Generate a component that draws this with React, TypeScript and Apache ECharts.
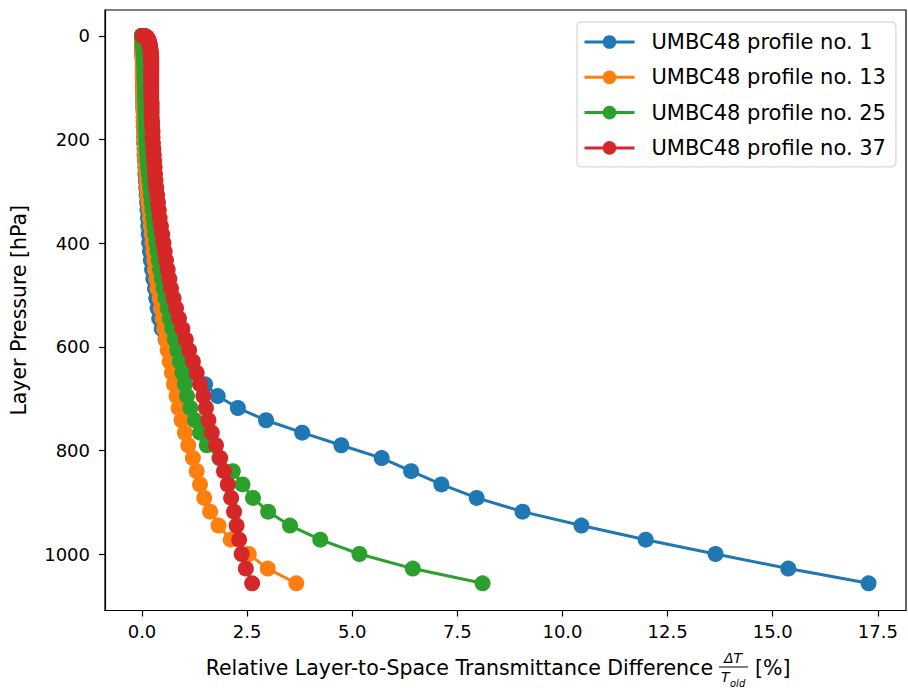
import React, { useEffect, useRef } from "react";
import * as echarts from "echarts";

// Layer pressures [hPa] (99 layers)
const layerPressure = [
  0.01, 0.03, 0.06, 0.11, 0.18, 0.29, 0.43, 0.61, 0.84, 1.14,
  1.49, 1.92, 2.43, 3.02, 3.71, 4.5, 5.4, 6.42, 7.56, 8.84,
  10.26, 11.83, 13.55, 15.44, 17.51, 19.75, 22.19, 24.82, 27.65, 30.7,
  33.96, 37.45, 41.18, 45.14, 49.36, 53.83, 58.56, 63.56, 68.83, 74.39,
  80.24, 86.38, 92.82, 99.57, 106.63, 114.01, 121.71, 129.75, 138.12, 146.83,
  155.88, 165.29, 175.05, 185.17, 195.65, 206.51, 217.73, 229.34, 241.32, 253.69,
  266.44, 279.59, 293.13, 307.07, 321.41, 336.15, 351.29, 366.85, 382.81, 399.18,
  415.97, 433.18, 450.8, 468.84, 487.3, 506.18, 525.48, 545.2, 565.35, 585.92,
  606.91, 628.33, 650.17, 672.43, 695.12, 718.23, 741.76, 765.71, 790.08, 814.87,
  840.08, 865.7, 891.74, 918.2, 945.06, 972.33, 1000.01, 1028.09, 1056.58,
];

const profile1 = [
  0.0, 0.0, 0.0, 0.0, 0.0, 0.0, 0.0, 0.0, 0.0, 0.0,
  0.0, 0.0, 0.01, 0.01, 0.01, 0.01, 0.01, 0.01, 0.01, 0.01,
  0.01, 0.01, 0.01, 0.01, 0.01, 0.01, 0.01, 0.01, 0.01, 0.01,
  0.01, 0.01, 0.02, 0.02, 0.02, 0.02, 0.02, 0.02, 0.02, 0.02,
  0.02, 0.02, 0.02, 0.02, 0.03, 0.03, 0.03, 0.03, 0.03, 0.04,
  0.04, 0.04, 0.04, 0.05, 0.05, 0.05, 0.06, 0.06, 0.07, 0.08,
  0.08, 0.09, 0.1, 0.11, 0.12, 0.13, 0.14, 0.15, 0.16, 0.17,
  0.19, 0.21, 0.24, 0.27, 0.31, 0.34, 0.37, 0.41, 0.47, 0.56,
  0.7, 0.92, 1.22, 1.5, 1.8, 2.28, 2.95, 3.81, 4.74, 5.7,
  6.4, 7.12, 7.96, 9.05, 10.45, 11.98, 13.64, 15.37, 17.28,
];

const profile13 = [
  0.0, 0.0, 0.0, 0.0, 0.0, 0.0, 0.0, 0.0, 0.0, 0.0,
  0.0, 0.0, 0.0, 0.01, 0.01, 0.01, 0.01, 0.01, 0.01, 0.01,
  0.01, 0.01, 0.01, 0.01, 0.01, 0.01, 0.01, 0.01, 0.01, 0.01,
  0.01, 0.01, 0.01, 0.02, 0.02, 0.02, 0.02, 0.02, 0.02, 0.02,
  0.02, 0.02, 0.03, 0.03, 0.03, 0.03, 0.03, 0.04, 0.04, 0.04,
  0.04, 0.05, 0.05, 0.05, 0.06, 0.06, 0.07, 0.07, 0.08, 0.09,
  0.1, 0.11, 0.12, 0.13, 0.15, 0.17, 0.19, 0.21, 0.23, 0.25,
  0.27, 0.29, 0.31, 0.34, 0.37, 0.42, 0.45, 0.49, 0.53, 0.57,
  0.61, 0.66, 0.71, 0.76, 0.82, 0.87, 0.94, 1.02, 1.1, 1.21,
  1.3, 1.38, 1.48, 1.62, 1.82, 2.11, 2.54, 2.99, 3.67,
];

const profile25 = [
  0.0, 0.0, 0.0, 0.0, 0.0, 0.0, 0.01, 0.01, 0.01, 0.01,
  0.01, 0.01, 0.01, 0.01, 0.02, 0.02, 0.02, 0.02, 0.02, 0.02,
  0.02, 0.03, 0.03, 0.03, 0.03, 0.03, 0.04, 0.04, 0.04, 0.04,
  0.04, 0.05, 0.05, 0.05, 0.05, 0.05, 0.06, 0.06, 0.06, 0.06,
  0.06, 0.06, 0.07, 0.07, 0.07, 0.07, 0.07, 0.08, 0.08, 0.08,
  0.08, 0.09, 0.09, 0.09, 0.1, 0.1, 0.11, 0.12, 0.13, 0.14,
  0.16, 0.18, 0.2, 0.21, 0.23, 0.25, 0.27, 0.29, 0.31, 0.34,
  0.37, 0.4, 0.43, 0.47, 0.51, 0.56, 0.61, 0.66, 0.72, 0.78,
  0.84, 0.9, 0.96, 1.02, 1.07, 1.15, 1.26, 1.38, 1.54, 1.84,
  2.16, 2.39, 2.64, 3.0, 3.52, 4.24, 5.17, 6.44, 8.1,
];

const profile37 = [
  0.02, 0.02, 0.03, 0.03, 0.04, 0.05, 0.06, 0.06, 0.07, 0.08,
  0.09, 0.1, 0.11, 0.11, 0.12, 0.13, 0.13, 0.14, 0.15, 0.15,
  0.16, 0.17, 0.17, 0.18, 0.18, 0.19, 0.19, 0.2, 0.2, 0.21,
  0.21, 0.21, 0.22, 0.22, 0.22, 0.22, 0.22, 0.22, 0.22, 0.22,
  0.22, 0.22, 0.22, 0.22, 0.22, 0.22, 0.22, 0.23, 0.23, 0.23,
  0.23, 0.24, 0.24, 0.25, 0.25, 0.26, 0.27, 0.28, 0.29, 0.3,
  0.31, 0.32, 0.34, 0.36, 0.38, 0.4, 0.42, 0.45, 0.48, 0.51,
  0.54, 0.57, 0.61, 0.65, 0.69, 0.75, 0.81, 0.88, 0.96, 1.04,
  1.12, 1.21, 1.3, 1.38, 1.46, 1.52, 1.58, 1.66, 1.76, 1.86,
  1.95, 2.04, 2.12, 2.19, 2.25, 2.31, 2.37, 2.47, 2.62,
];

const seriesNames = [
  "UMBC48 profile no. 1",
  "UMBC48 profile no. 13",
  "UMBC48 profile no. 25",
  "UMBC48 profile no. 37",
];
const seriesColors = ["#1f77b4", "#ff7f0e", "#2ca02c", "#d62728"];
const xTicks = [0, 2.5, 5, 7.5, 10, 12.5, 15, 17.5];
const yTicks = [0, 200, 400, 600, 800, 1000];

const FONT = "'DejaVu Sans', 'Noto Sans', sans-serif";

export default function App() {
  const ref = useRef<HTMLDivElement>(null);

  useEffect(() => {
    document.body.style.margin = "0";
    const chart = echarts.init(ref.current!, null, { renderer: "svg" });
    const profiles = [profile1, profile13, profile25, profile37];

    chart.setOption({
      animation: false,
      backgroundColor: "#ffffff",
      grid: {
        left: 101,
        right: 2,
        top: 10,
        bottom: 80.5,
        show: true,
        borderColor: "#000000",
        borderWidth: 1.2,
        backgroundColor: "transparent",
      },
      xAxis: {
        type: "value",
        min: -0.88,
        max: 18.17,
        splitLine: { show: false },
        axisLine: { show: true, onZero: false, lineStyle: { color: "#000", width: 1.2 } },
        axisTick: {
          show: true,
          length: 6,
          inside: false,
          customValues: xTicks,
          lineStyle: { color: "#000", width: 1.2 },
        },
        axisLabel: {
          customValues: xTicks,
          formatter: (v: number) => v.toFixed(1),
          fontFamily: FONT,
          fontSize: 18,
          color: "#000",
          margin: 12,
        },
      },
      yAxis: {
        type: "value",
        inverse: true,
        min: -50,
        max: 1109,
        splitLine: { show: false },
        axisLine: { show: true, onZero: false, lineStyle: { color: "#000", width: 1.2 } },
        axisTick: {
          show: true,
          length: 6,
          inside: false,
          customValues: yTicks,
          lineStyle: { color: "#000", width: 1.2 },
        },
        axisLabel: {
          customValues: yTicks,
          formatter: (v: number) => String(v),
          fontFamily: FONT,
          fontSize: 18,
          color: "#000",
          margin: 15,
        },
        name: "Layer Pressure [hPa]",
        nameLocation: "middle",
        nameGap: 76,
        nameTextStyle: { fontFamily: FONT, fontSize: 20.5, color: "#000" },
      },
      legend: {
        orient: "vertical",
        left: 577,
        top: 22,
        padding: [9.5, 10, 8.5, 6],
        itemGap: 14.3,
        itemWidth: 50,
        itemHeight: 17,
        selectedMode: false,
        backgroundColor: "#ffffff",
        borderColor: "#cccccc",
        borderWidth: 1,
        borderRadius: 4,
        lineStyle: { width: 3 },
        textStyle: {
          fontFamily: FONT,
          fontSize: 21,
          lineHeight: 21,
          color: "#000",
          padding: [0, 0, 0, 12],
        },
        data: seriesNames,
      },
      series: profiles.map((vals, i) => ({
        name: seriesNames[i],
        type: "line",
        data: layerPressure.map((p, k) => [vals[k], p]),
        symbol: "circle",
        symbolSize: 16,
        showAllSymbol: true,
        z: 2 + i,
        silent: true,
        color: seriesColors[i],
        lineStyle: { color: seriesColors[i], width: 3 },
        itemStyle: { color: seriesColors[i] },
        emphasis: { disabled: true },
      })),
      graphic: [
        {
          type: "text",
          x: 713,
          y: 668,
          style: {
            text: "Relative Layer-to-Space Transmittance Difference",
            fontFamily: FONT,
            fontSize: 20.5,
            fill: "#000",
            textAlign: "right",
            textVerticalAlign: "middle",
          },
        },
        {
          type: "text",
          x: 733,
          y: 658,
          style: {
            text: "ΔT",
            fontFamily: FONT,
            fontSize: 14,
            fontStyle: "italic",
            fill: "#000",
            textAlign: "center",
            textVerticalAlign: "middle",
          },
        },
        {
          type: "line",
          shape: { x1: 719, y1: 667, x2: 748, y2: 667 },
          style: { stroke: "#000", lineWidth: 1 },
        },
        {
          type: "text",
          x: 721,
          y: 677,
          style: {
            text: "T",
            fontFamily: FONT,
            fontSize: 14,
            fontStyle: "italic",
            fill: "#000",
            textAlign: "left",
            textVerticalAlign: "middle",
          },
        },
        {
          type: "text",
          x: 730,
          y: 683,
          style: {
            text: "old",
            fontFamily: FONT,
            fontSize: 10,
            fontStyle: "italic",
            fill: "#000",
            textAlign: "left",
            textVerticalAlign: "middle",
          },
        },
        {
          type: "text",
          x: 755,
          y: 668,
          style: {
            text: "[%]",
            fontFamily: FONT,
            fontSize: 20.5,
            fill: "#000",
            textAlign: "left",
            textVerticalAlign: "middle",
          },
        },
      ],
    });

    return () => chart.dispose();
  }, []);

  return (
    <div
      ref={ref}
      style={{ position: "absolute", left: 0, top: 0, width: 908, height: 691 }}
    />
  );
}
